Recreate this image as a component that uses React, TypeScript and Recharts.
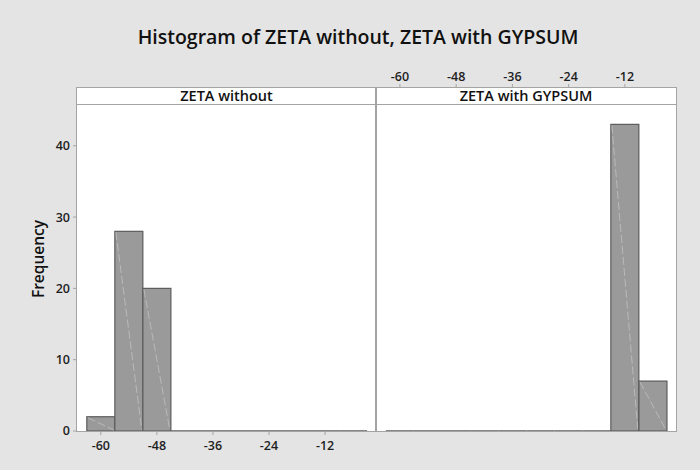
import React from 'react';
import { BarChart, Bar, XAxis, YAxis } from 'recharts';

const binCenters = [-60, -54, -48, -42, -36, -30, -24, -18, -12, -6];
const withoutCounts = [2, 28, 20, 0, 0, 0, 0, 0, 0, 0];
const withCounts = [0, 0, 0, 0, 0, 0, 0, 0, 43, 7];
const xTicks = [-60, -48, -36, -24, -12];
const yTicks = [0, 10, 20, 30, 40];
const panelTitles = ['ZETA without', 'ZETA with GYPSUM'];
const chartTitle = 'Histogram of ZETA without, ZETA with GYPSUM';
const yLabel = 'Frequency';

const xDomain: [number, number] = [-65.1, -1.1];
const yDomain: [number, number] = [0, 48.1];

const withoutData = binCenters.map((c, i) => ({ bin: c, count: withoutCounts[i] }));
const withData = binCenters.map((c, i) => ({ bin: c, count: withCounts[i] }));

const FONT = '"Open Sans", "Noto Sans", sans-serif';
const BG = '#e4e4e4';
const BORDER = '#a4a4a4';
const BAR_FILL = '#9a9a9a';
const BAR_STROKE = '#5c5c5c';
const tickStyle = { fontFamily: FONT, fontSize: 12.5, fontWeight: 600, fill: '#1e1e1e' };

const HistBar = (props: any) => {
  const { x, y, width, height } = props;
  if (x == null || width == null) return null;
  const h = Math.abs(height || 0);
  if (h < 0.5) {
    return (
      <line x1={x} x2={x + width} y1={y + (height || 0)} y2={y + (height || 0)} stroke={BAR_STROKE} strokeWidth={1.5} />
    );
  }
  return (
    <g>
      <rect x={x} y={y} width={width} height={height} fill={BAR_FILL} stroke={BAR_STROKE} strokeWidth={1.2} />
      <line
        x1={x + 1}
        y1={y + 1}
        x2={x + width - 1}
        y2={y + height - 1}
        stroke="#cfcfcf"
        strokeWidth={0.6}
        strokeDasharray="8 3"
      />
    </g>
  );
};

export default function App() {
  return (
    <div
      style={{
        position: 'absolute',
        left: 0,
        top: 0,
        width: 700,
        height: 470,
        background: BG,
        fontFamily: FONT,
        overflow: 'hidden',
      }}
    >
      {/* Title */}
      <div
        style={{
          position: 'absolute',
          left: 8,
          top: 24,
          width: 700,
          textAlign: 'center',
          fontSize: 19.5,
          fontWeight: 600,
          lineHeight: '26px',
          color: '#111',
        }}
      >
        {chartTitle}
      </div>

      {/* Panel frame */}
      <div
        style={{
          position: 'absolute',
          left: 76,
          top: 87,
          width: 601,
          height: 345,
          boxSizing: 'border-box',
          border: `1.5px solid ${BORDER}`,
          background: '#fff',
        }}
      />
      {/* divider */}
      <div style={{ position: 'absolute', left: 375, top: 87, width: 1.5, height: 345, background: BORDER }} />
      {/* header bottom line */}
      <div style={{ position: 'absolute', left: 76, top: 103.5, width: 601, height: 1.5, background: BORDER }} />

      {/* headers */}
      <div
        style={{
          position: 'absolute',
          left: 77,
          top: 87,
          width: 299,
          height: 17,
          lineHeight: '17px',
          textAlign: 'center',
          fontSize: 14.5,
          fontWeight: 600,
          color: '#111',
        }}
      >
        {panelTitles[0]}
      </div>
      <div
        style={{
          position: 'absolute',
          left: 376,
          top: 87,
          width: 300,
          height: 17,
          lineHeight: '17px',
          textAlign: 'center',
          fontSize: 14.5,
          fontWeight: 600,
          color: '#111',
        }}
      >
        {panelTitles[1]}
      </div>

      {/* Y label */}
      <div
        style={{
          position: 'absolute',
          left: 38 - 60,
          top: 259 - 10,
          width: 120,
          height: 20,
          lineHeight: '20px',
          textAlign: 'center',
          fontSize: 15.5,
          fontWeight: 600,
          color: '#111',
          transform: 'rotate(-90deg)',
        }}
      >
        {yLabel}
      </div>

      {/* Left panel chart */}
      <div style={{ position: 'absolute', left: 0, top: 0 }}>
        <BarChart
          width={376}
          height={470}
          data={withoutData}
          margin={{ left: 37, right: 0, top: 88, bottom: 9 }}
          barCategoryGap={0}
          barGap={0}
        >
          <XAxis
            dataKey="bin"
            type="number"
            domain={xDomain}
            ticks={xTicks}
            allowDataOverflow
            axisLine={false}
            tickLine={{ stroke: BORDER }}
            tickSize={4}
            tickMargin={6}
            height={30}
            tick={tickStyle}
            interval={0}
          />
          <YAxis
            type="number"
            domain={yDomain}
            ticks={yTicks}
            allowDataOverflow
            axisLine={false}
            tickLine={{ stroke: BORDER }}
            tickSize={4}
            tickMargin={3}
            width={40}
            tick={tickStyle}
            interval={0}
          />
          <Bar dataKey="count" shape={HistBar} isAnimationActive={false} />
        </BarChart>
      </div>

      {/* Right panel chart */}
      <div style={{ position: 'absolute', left: 376, top: 0 }}>
        <BarChart
          width={324}
          height={470}
          data={withData}
          margin={{ left: 0, right: 24, top: 58, bottom: 39 }}
          barCategoryGap={0}
          barGap={0}
        >
          <XAxis
            dataKey="bin"
            type="number"
            orientation="top"
            domain={xDomain}
            ticks={xTicks}
            allowDataOverflow
            axisLine={false}
            tickLine={{ stroke: BORDER }}
            tickSize={4}
            tickMargin={3}
            height={30}
            tick={tickStyle}
            interval={0}
          />
          <YAxis type="number" domain={yDomain} ticks={yTicks} hide allowDataOverflow />
          <Bar dataKey="count" shape={HistBar} isAnimationActive={false} />
        </BarChart>
      </div>
    </div>
  );
}
